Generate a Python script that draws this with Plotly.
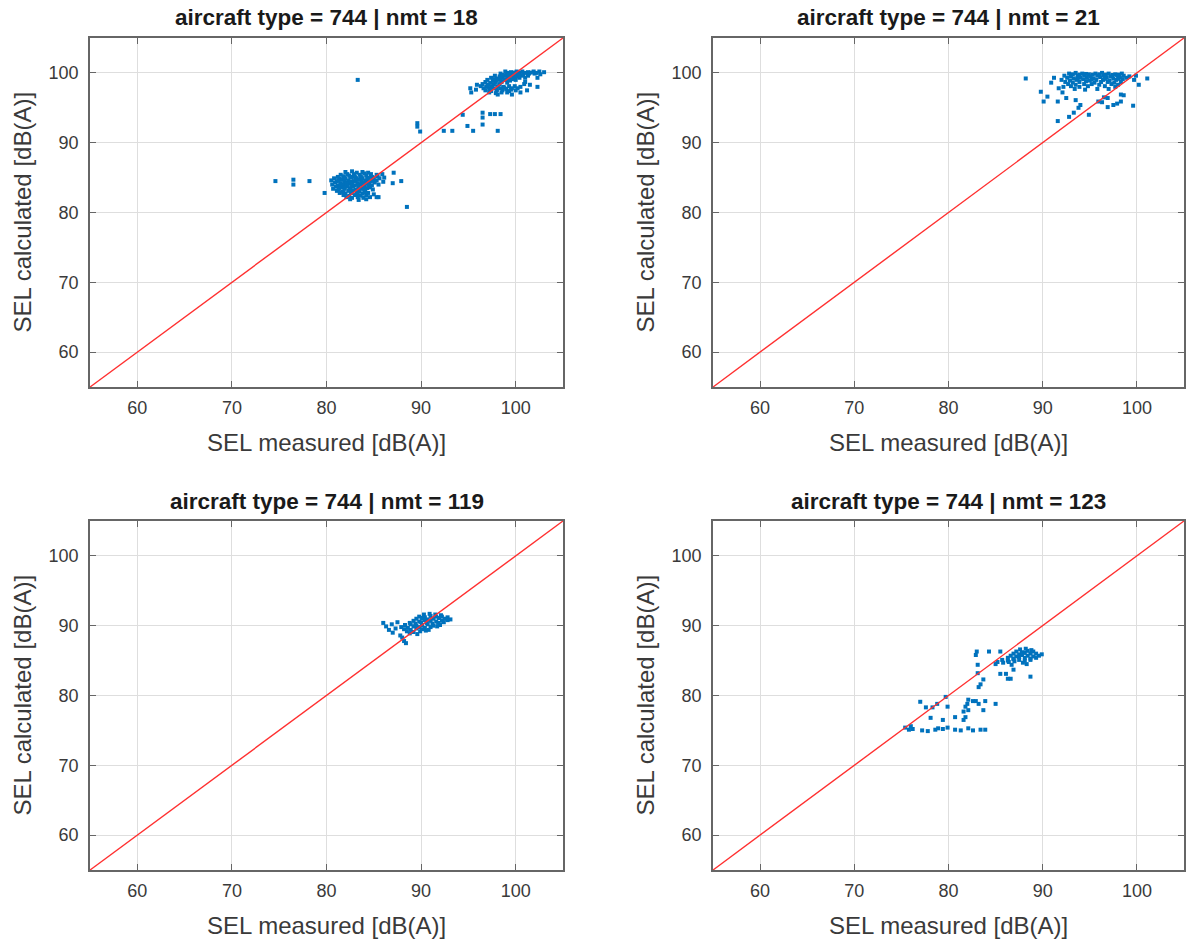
import plotly.graph_objects as go

# ---------------- data ----------------
panel_titles = [
    "aircraft type = 744 | nmt = 18",
    "aircraft type = 744 | nmt = 21",
    "aircraft type = 744 | nmt = 119",
    "aircraft type = 744 | nmt = 123",
]
x_label = "SEL measured [dB(A)]"
y_label = "SEL calculated [dB(A)]"
tick_vals = [60, 70, 80, 90, 100]
axis_range = [55, 105]
diag = [55, 105]  # line of equality

# (SEL measured, SEL calculated) pairs
nmt18 = [
    (82.0,85.8),(82.7,85.9),(83.2,85.7),(83.8,85.8),(84.4,85.7),
    (81.5,85.4),(82.2,85.5),(82.9,85.5),(83.5,85.4),(84.0,85.6),(84.7,85.5),(85.3,85.4),(85.9,85.5),
    (81.2,85.1),(81.8,85.2),(82.4,85.3),(83.0,85.1),(83.6,85.2),(84.2,85.3),(84.8,85.1),(85.4,85.2),(86.1,85.0),
    (80.8,84.9),(81.4,84.8),(82.0,84.9),(82.6,85.0),(83.2,84.8),(83.8,84.9),(84.4,85.0),(85.0,84.8),(85.6,84.9),
    (80.5,84.6),(81.1,84.5),(81.7,84.7),(82.3,84.6),(82.9,84.5),(83.5,84.7),(84.1,84.6),(84.7,84.5),(85.3,84.6),(86.0,84.4),
    (80.9,84.3),(81.5,84.2),(82.1,84.3),(82.7,84.4),(83.3,84.2),(83.9,84.3),(84.5,84.2),(85.1,84.3),
    (80.6,84.0),(81.2,83.9),(81.8,84.0),(82.4,84.1),(83.0,83.9),(83.6,84.0),(84.2,84.1),(84.8,83.9),(85.5,84.0),
    (81.0,83.7),(81.6,83.6),(82.2,83.7),(82.8,83.8),(83.4,83.6),(84.0,83.7),(84.6,83.6),
    (80.7,83.4),(81.3,83.3),(81.9,83.4),(82.5,83.5),(83.1,83.3),(83.7,83.4),(84.3,83.5),(84.9,83.3),
    (81.1,83.1),(81.7,83.0),(82.3,83.1),(82.9,83.2),(83.5,83.0),(84.1,83.1),
    (81.4,82.8),(82.0,82.7),(82.6,82.8),(83.2,82.9),(83.8,82.7),(84.4,82.8),(85.0,82.6),
    (81.8,82.5),(82.4,82.4),(83.0,82.5),(83.6,82.4),(84.2,82.5),
    (82.1,82.2),(82.7,82.1),(83.3,82.2),(83.9,82.1),(84.6,82.2),(85.3,82.2),
    (82.5,81.9),(83.4,81.8),(84.2,81.9),
    (81.9,85.0),(82.5,85.1),(83.1,84.95),(83.7,85.05),(84.3,84.8),(84.9,85.0),
    (81.3,84.6),(81.9,84.5),(82.5,84.4),(83.1,84.55),(83.7,84.45),(84.3,84.4),(84.9,84.65),
    (81.5,84.0),(82.1,84.1),(82.7,83.95),(83.3,84.05),(83.9,83.85),(84.5,83.95),
    (81.3,83.5),(81.9,83.6),(82.5,83.25),(83.4,83.35),(84.0,83.35),
    (81.8,82.9),(82.6,83.0),(83.3,82.65),(84.0,82.9),
    (74.6,84.5),(76.5,84.7),(76.5,84.0),(78.2,84.5),(79.8,82.8),(88.5,80.8),
    (87.1,85.7),(87.9,84.5),(87.0,84.2),(85.5,82.2),
    (83.3,99.0),
    (89.6,92.8),(89.6,92.3),(89.9,91.6),(92.4,91.7),(93.3,91.7),(94.4,94.0),(94.9,92.4),
    (95.5,91.7),(96.5,94.3),(96.5,93.6),(96.5,92.6),(97.3,94.1),(97.8,94.1),(98.4,94.1),(98.1,91.7),
    (98.9,100.2),(99.5,100.1),(100.1,100.2),(100.7,100.2),(101.3,100.1),(101.9,100.2),(102.5,100.2),(103.0,100.1),
    (98.4,99.9),(99.0,99.8),(99.6,99.9),(100.2,99.9),(100.8,99.8),(101.4,99.9),(102.0,99.9),(102.6,99.8),
    (97.8,99.6),(98.3,99.5),(98.9,99.6),(99.5,99.6),(100.1,99.5),(100.7,99.6),(101.3,99.6),
    (97.4,99.3),(98.0,99.2),(98.6,99.3),(99.2,99.3),(99.8,99.2),(100.4,99.3),(101.0,99.3),(102.3,99.3),
    (97.0,99.0),(97.6,98.9),(98.2,99.0),(98.8,99.0),(99.4,98.9),(100.0,99.0),
    (96.8,98.7),(97.3,98.6),(97.9,98.7),(98.5,98.7),(99.1,98.6),(101.0,98.7),
    (96.5,98.4),(97.1,98.3),(97.7,98.4),(98.3,98.4),(100.9,98.4),(101.5,98.3),
    (96.3,98.1),(96.9,98.0),(97.5,98.1),(98.1,98.1),(98.7,98.0),(99.3,98.1),(99.9,98.1),(100.5,98.0),(102.3,98.0),
    (96.6,97.8),(97.2,97.7),(97.8,97.8),(98.4,97.8),(99.0,97.7),(99.6,97.8),(100.2,97.8),
    (96.8,97.5),(97.4,97.4),(98.0,97.5),(98.6,97.5),(99.3,97.4),(100.0,97.5),(101.2,97.5),
    (97.2,97.2),(97.9,97.1),(98.5,97.2),(99.1,97.2),(100.5,97.2),
    (98.1,96.9),(99.6,96.9),
    (95.2,97.8),(95.3,97.2),(95.9,98.3),(95.8,97.6),
    (99.2,100.0),(99.8,100.05),(100.4,100.0),(101.0,100.0),(101.6,100.05),(102.2,100.0),
    (98.6,99.7),(99.2,99.75),(99.8,99.7),(100.4,99.75),(97.7,99.1),(98.4,99.15),(99.0,99.1),(99.6,99.1),
    (97.0,98.25),(97.4,97.95),(98.0,97.6),(98.8,97.9),(99.5,97.6),
]

nmt21 = [
    (92.8,99.9),(93.5,100.0),(94.2,99.9),(94.9,99.8),(95.6,99.9),(96.3,100.0),(97.0,99.9),(97.7,99.8),(98.4,99.9),
    (92.3,99.6),(93.0,99.5),(93.7,99.6),(94.4,99.7),(95.1,99.5),(95.8,99.6),(96.5,99.6),(97.2,99.5),(97.9,99.7),(98.6,99.6),(99.2,99.5),
    (92.6,99.3),(93.3,99.2),(94.0,99.3),(94.7,99.3),(95.4,99.2),(96.1,99.4),(96.8,99.3),(97.5,99.2),(98.2,99.3),(98.9,99.3),
    (92.0,99.0),(92.9,98.9),(93.6,99.0),(94.3,99.1),(95.0,98.9),(95.7,99.0),(96.4,99.0),(97.1,98.9),(97.8,99.0),(98.5,99.1),
    (92.4,98.7),(93.2,98.6),(93.9,98.7),(94.6,98.8),(95.5,98.6),(96.2,98.7),(96.9,98.7),(97.6,98.6),(98.3,98.7),
    (92.7,98.4),(93.5,98.3),(94.4,98.4),(95.2,98.4),(96.0,98.3),(97.3,98.4),(98.0,98.3),
    (93.0,98.1),(93.9,98.0),(94.8,98.1),(96.6,98.1),(97.7,98.0),
    (93.4,97.7),(94.5,97.6),(95.8,97.7),(97.0,97.7),
    (93.2,99.8),(93.9,99.75),(94.6,99.85),(95.3,99.75),(96.0,99.8),(96.7,99.75),(97.4,99.7),(98.1,99.75),
    (93.7,99.15),(95.2,99.05),(96.6,99.15),(98.0,99.15),
    (88.2,99.2),(89.8,97.3),(90.1,95.9),(90.5,96.6),(90.9,98.6),(91.2,99.3),(91.6,95.9),(91.6,93.1),
    (92.1,97.2),(92.2,98.0),(92.8,93.7),(93.3,94.3),(93.5,96.1),(93.8,95.0),(94.0,95.4),(94.9,94.0),
    (95.9,95.9),(96.3,95.8),(96.5,96.5),(96.9,96.4),(96.9,95.1),(97.5,95.4),(97.9,95.6),(98.3,95.9),
    (98.6,96.8),(98.3,96.9),(99.6,95.3),(100.2,98.3),(101.1,99.2),(99.7,99.0),(99.9,99.6),(91.7,97.8),(92.5,96.4),
]

nmt119 = [
    (90.3,91.6),(90.9,91.7),(91.5,91.6),(92.1,91.5),
    (89.8,91.3),(90.4,91.2),(91.0,91.4),(91.6,91.3),(92.2,91.3),(92.8,91.2),
    (89.5,91.0),(90.1,91.1),(90.7,90.9),(91.3,91.0),(91.9,91.1),(92.5,91.0),(93.1,90.9),
    (89.2,90.7),(89.8,90.6),(90.4,90.8),(91.0,90.7),(91.6,90.6),(92.2,90.7),(92.8,90.8),
    (88.8,90.4),(89.4,90.3),(90.0,90.5),(90.6,90.4),(91.2,90.3),(91.8,90.4),(92.4,90.5),
    (88.3,90.1),(88.9,90.2),(89.5,90.0),(90.1,90.1),(90.7,90.2),(91.3,90.0),(92.0,90.1),
    (87.9,89.8),(88.6,89.7),(89.2,89.9),(89.8,89.8),(90.4,89.7),(91.0,89.8),(91.7,89.9),
    (88.2,89.5),(88.9,89.4),(89.5,89.6),(90.1,89.5),(90.8,89.4),
    (88.5,89.2),(89.2,89.1),(89.9,89.2),(90.5,89.3),
    (88.8,88.9),(89.6,88.8),
    (86.0,90.4),(86.3,89.9),(86.9,90.2),(87.3,89.6),(86.6,89.4),(87.5,90.5),(87.0,89.0),
    (88.0,88.3),(88.2,87.8),(87.8,88.6),(88.4,87.5),
]

nmt123 = [
    (87.6,86.6),(88.2,86.7),(88.8,86.5),
    (87.2,86.3),(87.8,86.2),(88.4,86.4),(89.0,86.3),
    (86.9,86.0),(87.5,85.9),(88.1,86.1),(88.7,86.0),(89.3,86.0),(89.9,85.9),
    (86.6,85.7),(87.2,85.6),(87.8,85.8),(88.4,85.7),(89.0,85.6),(89.6,85.7),
    (86.3,85.4),(86.9,85.3),(87.5,85.5),(88.1,85.4),(88.7,85.3),(89.3,85.4),
    (85.7,85.1),(86.3,85.0),(86.9,85.2),(87.5,85.1),(88.1,85.0),(88.7,85.1),
    (85.2,84.8),(85.8,84.7),(86.4,84.8),(87.0,84.9),(87.9,84.7),
    (85.0,84.5),(86.7,84.4),(88.3,84.5),
    (82.9,85.8),(83.0,86.3),(84.3,86.3),(85.5,86.3),(83.1,84.4),(83.1,83.2),(85.5,83.1),(86.1,83.1),
    (86.3,82.4),(86.6,82.4),(86.9,83.7),(88.7,82.7),(83.7,82.3),(83.4,81.6),(83.2,81.2),
    (82.1,79.4),(82.6,79.2),(82.0,78.8),(81.8,78.4),(82.1,77.9),(81.6,77.7),(82.9,79.2),(83.2,78.8),
    (83.9,79.2),(83.7,77.9),(85.0,78.8),(81.8,76.9),(81.6,76.5),(80.7,76.9),(79.9,78.4),(78.8,78.8),
    (78.3,78.3),(77.0,79.1),(77.6,78.3),(79.7,79.8),(78.1,76.8),(79.4,76.5),
    (75.4,75.4),(76.2,75.2),(77.2,75.0),(77.8,74.9),(78.6,75.1),(78.9,75.3),(79.4,75.2),(79.9,75.4),
    (80.7,75.1),(81.3,75.0),(82.1,75.3),(82.6,75.0),(83.4,75.1),(83.9,75.1),(76.0,75.6),(75.8,75.1),
]

panels = [nmt18, nmt21, nmt119, nmt123]

# ---------------- layout ----------------
W, H = 1187, 947
x_domains = [[90 / W, 563 / W], [713 / W, 1184 / W]]
y_domains = [[1 - 387 / H, 1 - 38 / H], [1 - 870 / H, 1 - 521 / H]]

point_color = "#0072BD"
line_color = "#ff3030"
axis_color = "#666666"
text_color = "#3a3a3a"
font_family = "Liberation Sans, Arial, sans-serif"

fig = go.Figure()
annotations = []
layout_axes = {}

for i, (pts, title) in enumerate(zip(panels, panel_titles)):
    row, col = divmod(i, 2)
    n = i + 1
    xa = "x" if n == 1 else f"x{n}"
    ya = "y" if n == 1 else f"y{n}"

    fig.add_trace(go.Scatter(
        x=[p[0] for p in pts], y=[p[1] for p in pts], mode="markers",
        marker=dict(symbol="square", size=4, color=point_color, line=dict(width=0)),
        xaxis=xa, yaxis=ya, showlegend=False, hoverinfo="skip",
    ))
    fig.add_trace(go.Scatter(
        x=diag, y=diag, mode="lines",
        line=dict(color=line_color, width=1.4),
        xaxis=xa, yaxis=ya, showlegend=False, hoverinfo="skip",
    ))

    common = dict(
        range=axis_range, tickvals=tick_vals, showgrid=True, gridcolor="#dedede", gridwidth=1,
        showline=True, linecolor=axis_color, linewidth=1.6, mirror="ticks",
        ticks="inside", ticklen=6, tickwidth=1.2, tickcolor=axis_color,
        tickfont=dict(family=font_family, size=18, color=text_color),
        zeroline=False, fixedrange=True,
    )
    layout_axes[f"xaxis{'' if n == 1 else n}"] = dict(
        common, domain=x_domains[col], anchor=ya, ticklabelstandoff=4)
    layout_axes[f"yaxis{'' if n == 1 else n}"] = dict(
        common, domain=y_domains[row], anchor=xa, ticklabelstandoff=6)

    xd, yd = x_domains[col], y_domains[row]
    xc = (xd[0] + xd[1]) / 2
    yc = (yd[0] + yd[1]) / 2
    annotations.append(dict(
        text=f"<b>{title}</b>", x=xc, y=yd[1] + 20 / H, xref="paper", yref="paper",
        xanchor="center", yanchor="middle", showarrow=False,
        font=dict(family=font_family, size=22.5, color="#1a1a1a"),
    ))
    annotations.append(dict(
        text=x_label, x=xc, y=yd[0] - 55 / H, xref="paper", yref="paper",
        xanchor="center", yanchor="middle", showarrow=False,
        font=dict(family=font_family, size=24, color=text_color),
    ))
    annotations.append(dict(
        text=y_label, x=xd[0] - 68 / W, y=yc, xref="paper", yref="paper",
        xanchor="center", yanchor="middle", showarrow=False, textangle=-90,
        font=dict(family=font_family, size=24, color=text_color),
    ))

fig.update_layout(
    width=W, height=H, autosize=False,
    margin=dict(l=0, r=0, t=0, b=0),
    paper_bgcolor="white", plot_bgcolor="white",
    annotations=annotations,
    **layout_axes,
)

fig.write_html("out.html")
